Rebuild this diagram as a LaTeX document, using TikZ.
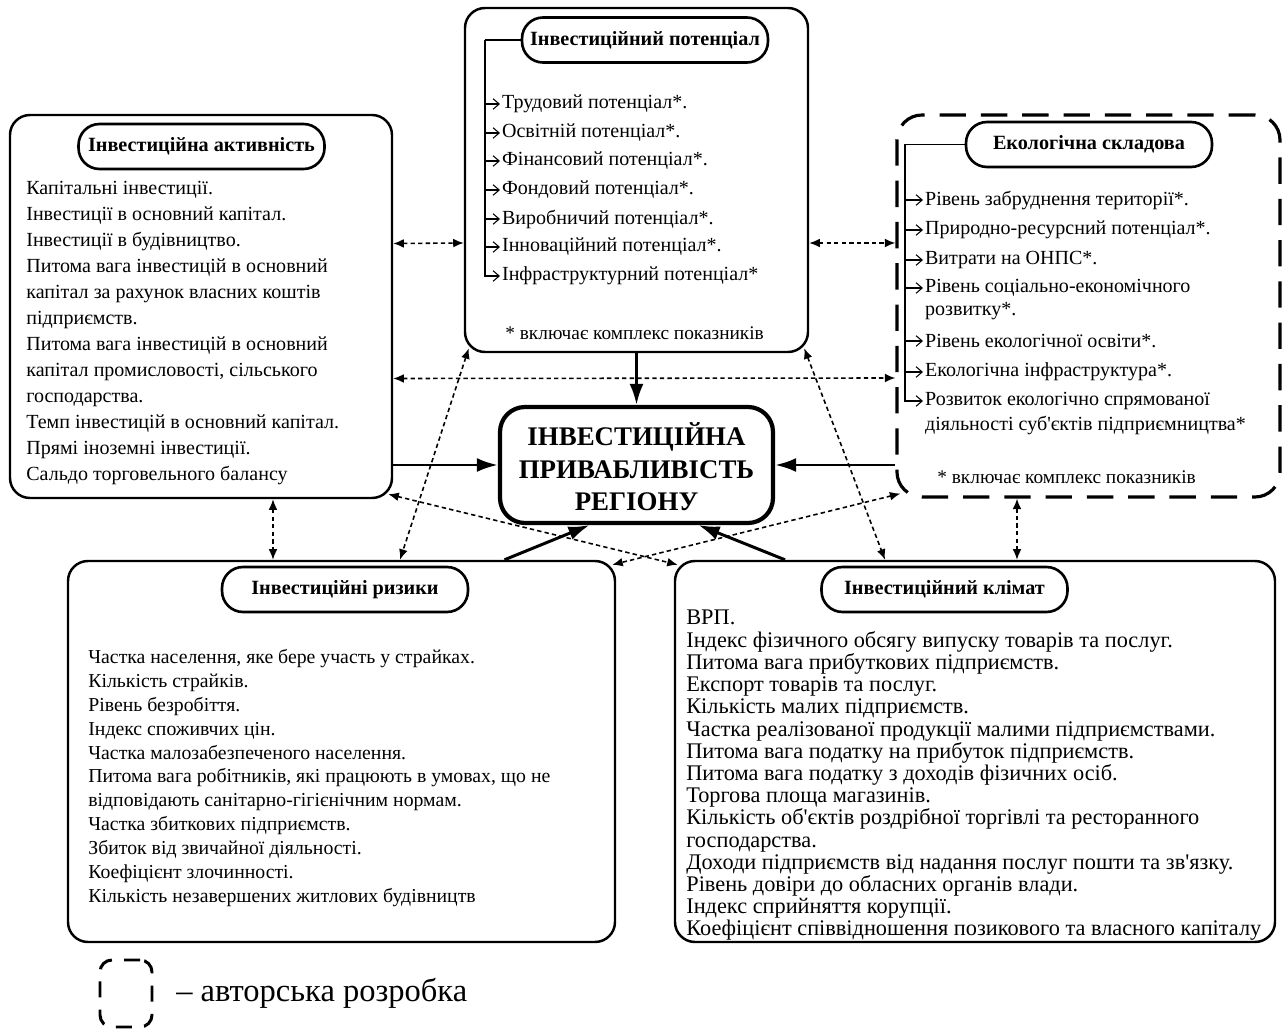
\documentclass[tikz,border=0pt]{standalone}
\usepackage{fontspec}
\setmainfont{Liberation Serif}
\usetikzlibrary{arrows.meta, fit, calc, positioning}
\newcommand\tightlines{\lineskiplimit=-6pt\relax}
\tikzset{panel/.style = {draw, line width = 1.4pt, rounded corners = 0.4cm, inner sep = 0pt}}
\tikzset{dashpanel/.style = {panel, line width = 1.8pt, rounded corners = 0.5cm, dash pattern = on 15pt off 8.5pt}}
\tikzset{pill/.style = {draw, line width = 1.5pt, rounded corners = 0.42cm, minimum width = 4.92cm, minimum height = 0.9cm, font = \fontsize{11.5pt}{13pt}\selectfont\bfseries}}
\tikzset{item/.style = {anchor = west, inner sep = 1pt, font = \fontsize{11.4pt}{14pt}\selectfont}}
\tikzset{note/.style = {anchor = west, inner sep = 0pt, font = \fontsize{11pt}{12pt}\selectfont}}
\tikzset{textblock/.style = {anchor = north west, align = left, inner sep = 0pt}}
\tikzset{link/.style = {line width = 1.7pt, -{Latex[length = 12pt, width = 8pt]}}}
\tikzset{relation/.style = {line width = 0.9pt, dash pattern = on 2.5pt off 1.8pt, {Latex[length = 6pt, width = 5pt]}-{Latex[length = 6pt, width = 5pt]}}}
\tikzset{branch/.style = {line width = 0.6pt, -{Straight Barb[length = 3.5pt, width = 6pt]}}}

\begin{document}
\begin{tikzpicture}[x = 0.02cm, y = -0.02cm]
	\useasboundingbox (0, 0) rectangle (1282, 1030);

	% boxes
	\node[panel, fit = {(465, 8) (808, 352)}] (pot) {};
	\node[panel, fit = {(10, 115) (392, 498)}] (act) {};
	\node[dashpanel, fit = {(897, 115) (1280, 497)}] (eco) {};
	\node[panel, line width = 2.4pt, rounded corners = 0.5cm, fit = {(500, 407) (773, 523)}] (main) {};
	\node[align = center, inner sep = 0pt, font = \fontsize{15.3pt}{18.4pt}\selectfont\bfseries] (mainT) at (636.5, 467) {ІНВЕСТИЦІЙНА\\ПРИВАБЛИВІСТЬ\\РЕГІОНУ};
	\node[panel, fit = {(68, 561) (615, 942)}] (risk) {};
	\node[panel, fit = {(675, 561) (1275, 942)}] (clim) {};

	% titles
	\node[pill] (potT) at (645, 40) {Інвестиційний потенціал};
	\node[pill] (actT) at (201.5, 146.5) {Інвестиційна активність};
	\node[pill] (ecoT) at (1089, 144.5) {Екологічна складова};
	\node[pill] (riskT) at (345, 589.5) {Інвестиційні ризики};
	\node[pill] (climT) at (944.5, 589.5) {Інвестиційний клімат};

	% investment potential
	\node[item] (p1) at (500, 104) {Трудовий потенціал*.};
	\node[item] (p2) at (500, 133) {Освітній потенціал*.};
	\node[item] (p3) at (500, 161) {Фінансовий потенціал*.};
	\node[item] (p4) at (500, 190) {Фондовий потенціал*.};
	\node[item] (p5) at (500, 219) {Виробничий потенціал*.};
	\node[item] (p6) at (500, 247) {Інноваційний потенціал*.};
	\node[item] (p7) at (500, 276) {Інфраструктурний потенціал*};
	\node[note] (potN) at (505, 333) {* включає комплекс показників};
	\coordinate (potK) at (485, 40);
	\draw[line width = 0.6pt] (potT.west) -- (potK);
	\draw[branch] (potK) |- (p7.west);
	\draw[branch] (potK |- p1.west) -- (p1.west);
	\draw[branch] (potK |- p2.west) -- (p2.west);
	\draw[branch] (potK |- p3.west) -- (p3.west);
	\draw[branch] (potK |- p4.west) -- (p4.west);
	\draw[branch] (potK |- p5.west) -- (p5.west);
	\draw[branch] (potK |- p6.west) -- (p6.west);

	% ecological part
	\node[item] (e1) at (923, 200) {Рівень забруднення території*.};
	\node[item] (e2) at (923, 230) {Природно-ресурсний потенціал*.};
	\node[item] (e3) at (923, 260) {Витрати на ОНПС*.};
	\node[item] (e4) at (923, 288) {Рівень соціально-економічного};
	\node[item] (e4b) at (923, 311) {розвитку*.};
	\node[item] (e5) at (923, 341) {Рівень екологічної освіти*.};
	\node[item] (e6) at (923, 372) {Екологічна інфраструктура*.};
	\node[item] (e7) at (923, 401) {Розвиток екологічно спрямованої};
	\node[item] (e7b) at (923, 425) {діяльності суб\textquotesingle єктів підприємництва*};
	\node[note] (ecoN) at (937, 477) {* включає комплекс показників};
	\coordinate (ecoK) at (905, 144.5);
	\draw[line width = 0.6pt] (ecoT.west) -- (ecoK);
	\draw[branch] (ecoK) |- (e7.west);
	\draw[branch] (ecoK |- e1.west) -- (e1.west);
	\draw[branch] (ecoK |- e2.west) -- (e2.west);
	\draw[branch] (ecoK |- e3.west) -- (e3.west);
	\draw[branch] (ecoK |- e4.west) -- (e4.west);
	\draw[branch] (ecoK |- e5.west) -- (e5.west);
	\draw[branch] (ecoK |- e6.west) -- (e6.west);

	% investment activity
	\node[textblock, font = \fontsize{11.4pt}{14.8pt}\selectfont] (actL) at (26, 181) {Капітальні інвестиції.\\
		Інвестиції в основний капітал.\\
		Інвестиції в будівництво.\\
		Питома вага інвестицій в основний\\
		капітал за рахунок власних коштів\\
		підприємств.\\
		Питома вага інвестицій в основний\\
		капітал промисловості, сільського\\
		господарства.\\
		Темп інвестицій в основний капітал.\\
		Прямі іноземні інвестиції.\\
		Сальдо торговельного балансу};

	% investment risks
	\node[textblock, font = \fontsize{11.25pt}{13.6pt}\selectfont] (riskL) at (88, 649) {Частка населення, яке бере участь у страйках.\\
		Кількість страйків.\\
		Рівень безробіття.\\
		Індекс споживчих цін.\\
		Частка малозабезпеченого населення.\\
		Питома вага робітників, які працюють в умовах, що не\\
		відповідають санітарно-гігієнічним нормам.\\
		Частка збиткових підприємств.\\
		Збиток від звичайної діяльності.\\
		Коефіцієнт злочинності.\\
		Кількість незавершених житлових будівництв};

	% investment climate
	\node[textblock, font = {\fontsize{12.7pt}{12.64pt}\selectfont\tightlines}] (climL) at (686, 610) {ВРП.\\
		Індекс фізичного обсягу випуску товарів та послуг.\\
		Питома вага прибуткових підприємств.\\
		Експорт товарів та послуг.\\
		Кількість малих підприємств.\\
		Частка реалізованої продукції малими підприємствами.\\
		Питома вага податку на прибуток підприємств.\\
		Питома вага податку з доходів фізичних осіб.\\
		Торгова площа магазинів.\\
		Кількість об\textquotesingle єктів роздрібної торгівлі та ресторанного\\
		господарства.\\
		Доходи підприємств від надання послуг пошти та зв\textquotesingle язку.\\
		Рівень довіри до обласних органів влади.\\
		Індекс сприйняття корупції.\\
		Коефіцієнт співвідношення позикового та власного капіталу};

	% main links
	\draw[link] (pot.south) -- (main.north);
	\draw[link] (act.east |- main.west) -- (main.west);
	\draw[link] (eco.west |- main.east) -- (main.east);
	\draw[link] ($(risk.north) + (163, 0)$) -- ($(main.south) + (-47, 0)$);
	\draw[link] ($(clim.north) + (-190, 0)$) -- ($(main.south) + (62, 0)$);

	% mutual relations
	\draw[relation] ($(act.east) + (0, -63)$) -- ($(pot.west) + (0, 63)$);
	\draw[relation] ($(pot.east) + (0, 63)$) -- ($(eco.west) + (0, -63)$);
	\draw[relation] ($(act.east) + (0, 72)$) -- ($(eco.west) + (0, 72)$);
	\draw[relation] ($(act.south) + (72, 0)$) -- ($(risk.north) + (-68.5, 0)$);
	\draw[relation] ($(eco.south) + (-71.5, 0)$) -- ($(clim.north) + (42, 0)$);
	\draw[relation] ($(pot.south west) + (5, -5)$) -- ($(risk.north) + (58.5, 0)$);
	\draw[relation] ($(pot.south east) + (-5, -5)$) -- ($(clim.north) + (-90, 0)$);
	\draw[relation] ($(act.south east) + (-5, -5)$) -- ($(clim.north west) + (4, 5)$);
	\draw[relation] ($(eco.south west) + (5, -5)$) -- ($(risk.north east) + (-4, 5)$);

	% legend
	\node[dashpanel, line width = 1.7pt, rounded corners = 0.24cm, dash pattern = on 9pt off 7pt, fit = {(100, 960) (152, 1027)}] (key) {};
	\node[right = 0.45cm of key, inner sep = 0pt, font = \fontsize{18.5pt}{20pt}\selectfont] (keyT) {– авторська розробка};
\end{tikzpicture}
\end{document}
